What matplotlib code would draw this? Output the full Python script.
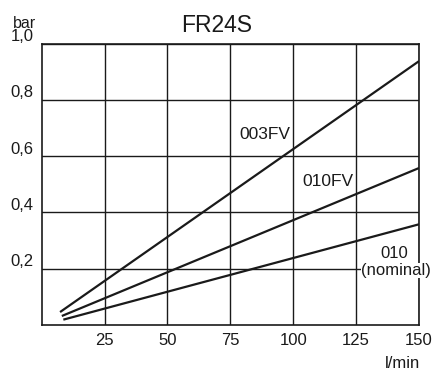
import matplotlib
matplotlib.use('Agg')
import matplotlib.pyplot as plt

plt.rcParams['font.family'] = ['Liberation Sans', 'DejaVu Sans']

# flow (l/min) and pressure drop (bar), start and end of each straight curve
flow = [[7.3, 150], [8.0, 150], [8.6, 150]]
drop = [[0.046, 0.938], [0.032, 0.558], [0.019, 0.358]]

x_ticks = [25, 50, 75, 100, 125, 150]
y_ticks = [0.2, 0.4, 0.6, 0.8, 1.0]
y_labels = ['0,2', '0,4', '0,6', '0,8', '1,0']

INK = '#1a1a1a'

fig = plt.figure(figsize=(4.33, 3.70), dpi=100)
ax = fig.add_axes([41.7/433, 45/370, 377.3/433, 281.3/370])

for xs, ys in zip(flow, drop):
    ax.plot(xs, ys, color=INK, lw=1.6, solid_capstyle='butt', zorder=3)

ax.set_xlim(0, 150)
ax.set_ylim(0, 1.0)
ax.set_xticks(x_ticks)
ax.set_yticks(y_ticks)
ax.tick_params(length=0, labelsize=12, pad=5.5, colors=INK)
ax.tick_params(axis='y', labelleft=False)
ax.grid(True, color=INK, lw=1)
for s in ax.spines.values():
    s.set_color(INK)
    s.set_linewidth(1.2)
ax.set_axisbelow(True)

# y labels sit just above their grid line
for y, lab in zip(y_ticks, y_labels):
    ax.annotate(lab, xy=(0, y), xycoords=('axes fraction', 'data'),
                xytext=(-6, 1.8), textcoords='offset points',
                ha='right', va='baseline', fontsize=12, color=INK)

# curve labels
ax.text(88.9, 0.661, '003FV', ha='center', va='baseline', fontsize=12.5, color=INK)
ax.text(113.7, 0.494, '010FV', ha='center', va='baseline', fontsize=12.5, color=INK)
ax.text(140.2, 0.237, '010', ha='center', va='baseline', fontsize=12, color=INK,
        zorder=5, clip_on=False, bbox=dict(facecolor='white', edgecolor='none', pad=0.3))
ax.text(141.0, 0.178, '(nominal)', ha='center', va='baseline', fontsize=12, color=INK,
        zorder=5, clip_on=False, bbox=dict(facecolor='white', edgecolor='none', pad=0.3))

fig.text(0.5, 1 - 32/370, 'FR24S', ha='center', va='baseline', fontsize=16.5, color=INK)
fig.text(24/433, 1 - 27.5/370, 'bar', ha='center', va='baseline', fontsize=11.5, color=INK)
fig.text(402.5/433, 1 - 368/370, 'l/min', ha='center', va='baseline', fontsize=12, color=INK)

fig.savefig('out.png', dpi=100)
